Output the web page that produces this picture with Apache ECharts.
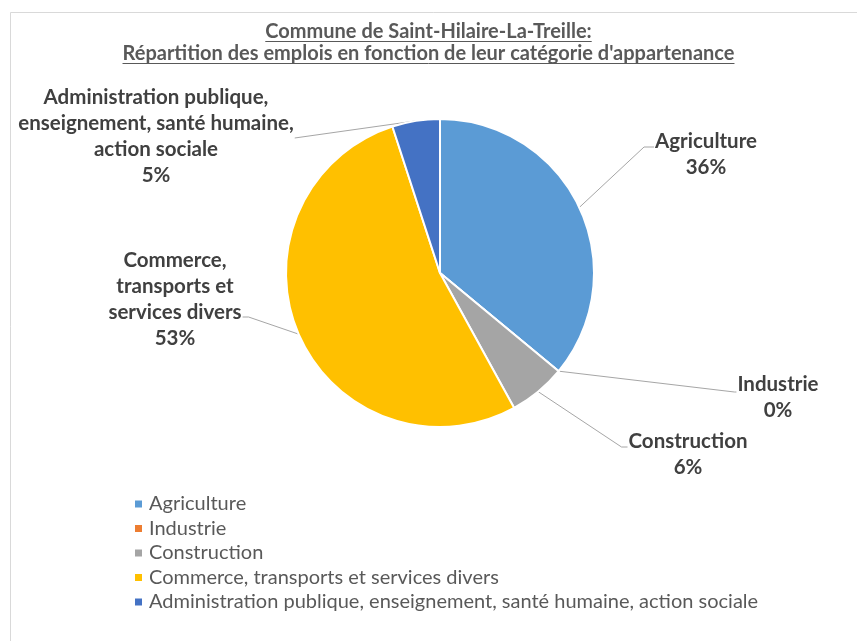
<!DOCTYPE html>
<html>
<head>
<meta charset="utf-8">
<script src="https://cdn.jsdelivr.net/npm/echarts@6/dist/echarts.min.js"></script>
<style>
  html, body { margin: 0; padding: 0; background: #ffffff; }
  #chart { width: 857px; height: 641px; }
</style>
</head>
<body>
<div id="chart"></div>
<script>
// Employment by sector, Saint-Hilaire-La-Treille (share of jobs, %)
const categories = [
  'Agriculture',
  'Industrie',
  'Construction',
  'Commerce, transports et services divers',
  'Administration publique, enseignement, santé humaine, action sociale'
];
const shares = [36, 0, 6, 53, 5];
// Wrapped versions of the category names used for the slice labels
const sliceLabels = [
  'Agriculture',
  'Industrie',
  'Construction',
  'Commerce,\ntransports et\nservices divers',
  'Administration publique,\nenseignement, santé humaine,\naction sociale'
];
const colors = ['#5B9BD5', '#ED7D31', '#A5A5A5', '#FFC000', '#4472C4'];
const titleLines = [
  'Commune de Saint-Hilaire-La-Treille:',
  "Répartition des emplois en fonction de leur catégorie d'appartenance"
];

const FONT = 'Lato, "Open Sans", sans-serif';
const TITLE_SIZE = 20;
const TITLE_LH = 22;
const TITLE_TOP = 21;

// Centre of each label block, the side its leader line arrives on,
// the height where the line meets it and the length of the short flat end
const labelPlacement = [
  { x: 706, y: 154, side: 'left', lineY: 147, flat: 10 },
  { x: 778, y: 397, side: 'left', lineY: 392, flat: 2 },
  { x: 688, y: 454, side: 'left', lineY: 447, flat: 6 },
  { x: 175, y: 299, side: 'right', lineY: 317, flat: 6 },
  { x: 156, y: 136, side: 'right', lineY: 138, flat: 0 }
];

function textWidth(str, font) {
  const c = document.createElement('canvas').getContext('2d');
  c.font = font;
  return c.measureText(str).width;
}

const chart = echarts.init(document.getElementById('chart'), null, { renderer: 'canvas' });

// Underlines under the two title lines
const underlineGraphics = titleLines.map(function (line, i) {
  const w = textWidth(line, 'bold ' + TITLE_SIZE + 'px ' + FONT);
  const y = Math.round(TITLE_TOP + TITLE_LH * i + TITLE_LH / 2 + 9) + 0.5;
  return {
    type: 'line',
    silent: true,
    shape: { x1: 428.5 - w / 2, y1: y, x2: 428.5 + w / 2, y2: y },
    style: { stroke: '#595959', lineWidth: 1 }
  };
});

chart.setOption({
  animation: false,
  backgroundColor: '#ffffff',
  color: colors,
  title: {
    text: titleLines.join('\n'),
    left: 'center',
    top: TITLE_TOP,
    padding: 0,
    textStyle: {
      fontFamily: FONT,
      fontSize: TITLE_SIZE,
      fontWeight: 'bold',
      color: '#595959',
      lineHeight: TITLE_LH
    }
  },
  graphic: [
    {
      type: 'polyline',
      silent: true,
      shape: { points: [[10.5, 641], [10.5, 12.5], [857, 12.5]] },
      style: { stroke: '#d9d9d9', lineWidth: 1, fill: null }
    }
  ].concat(underlineGraphics),
  legend: {
    orient: 'vertical',
    left: 128,
    top: 489,
    itemWidth: 9,
    itemHeight: 9,
    itemGap: 4.5,
    icon: 'rect',
    selectedMode: false,
    textStyle: {
      fontFamily: FONT,
      fontSize: 20,
      color: '#595959',
      lineHeight: 20,
      padding: [0, 0, 0, 1]
    },
    data: categories
  },
  series: [
    {
      type: 'pie',
      center: [440, 273],
      radius: 154,
      startAngle: 90,
      clockwise: true,
      avoidLabelOverlap: false,
      itemStyle: { borderColor: '#ffffff', borderWidth: 2 },
      label: {
        show: true,
        position: 'outside',
        fontFamily: FONT,
        fontSize: 20.5,
        fontWeight: 'bold',
        color: '#404040',
        lineHeight: 26,
        align: 'center',
        formatter: function (p) {
          return sliceLabels[p.dataIndex] + '\n' + Math.round(p.percent) + '%';
        }
      },
      labelLine: {
        show: true,
        length: 10,
        length2: 10,
        lineStyle: { color: '#a6a6a6', width: 1 }
      },
      labelLayout: function (params) {
        const place = labelPlacement[params.dataIndex];
        const rect = params.labelRect;
        const start = params.labelLinePoints ? params.labelLinePoints[0] : null;
        const left = place.x - rect.width / 2;
        const right = place.x + rect.width / 2;
        let end, knee;
        if (place.side === 'left') {
          end = [left - 1, place.lineY];
          knee = [left - 1 - place.flat, place.lineY];
        } else {
          end = [right + 1, place.lineY];
          knee = [right + 1 + place.flat, place.lineY];
        }
        const out = {
          x: place.x,
          y: place.y,
          align: 'center',
          verticalAlign: 'middle'
        };
        if (start) {
          out.labelLinePoints = [start, knee, end];
        }
        return out;
      },
      data: categories.map(function (name, i) {
        return { name: name, value: shares[i] };
      })
    }
  ]
});
</script>
</body>
</html>
